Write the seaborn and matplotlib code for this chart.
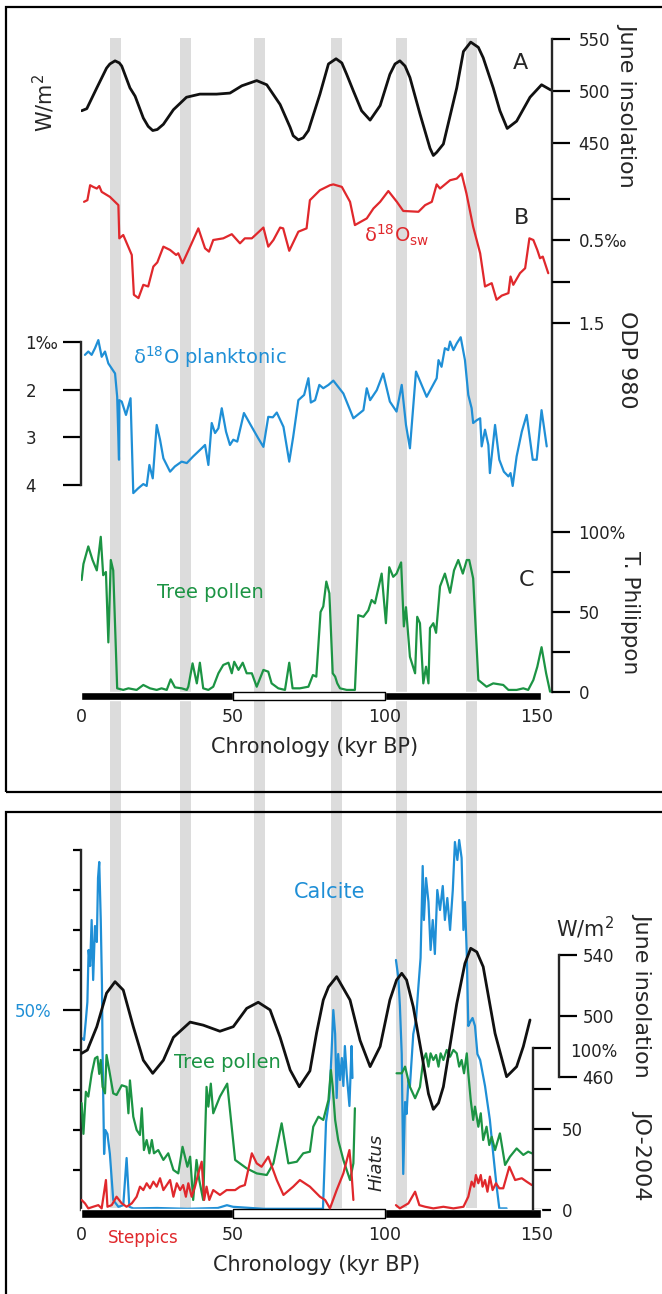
import numpy as np
import pandas as pd
import matplotlib.pyplot as plt
import seaborn as sns
from matplotlib.patches import Rectangle

sns.set_style("white")
plt.rcParams["font.family"] = ["DejaVu Sans"]
plt.rcParams["mathtext.fontset"] = "dejavusans"
plt.rcParams["lines.solid_joinstyle"] = "round"

# Figure geometry (pixels) and x mapping
W, H = 662, 1294
X0, PXK = 81, 3.04
XMAX = (560 - X0) / PXK

BLACK, RED, BLUE, GREEN = "#111111", "#e0282c", "#1f8fd6", "#1c9444"
GREY = "#dcdcdc"
TXT = "#222222"

# ---- DATA ----
# grey bands (kyr BP)
band_centers = [11.5, 34.5, 58.6, 84.2, 105.3, 128.6]
band_width = 3.6

# chronology bar
bar_black = [(0, 50), (100, 51.3)]
bar_white = [(50, 50)]

# A: June insolation (W/m2), ODP 980 panel
ins_top_age = [0.2, 1.9, 5.2, 8.4, 9.5, 11.2, 12.6, 13.4, 16.1, 17.8, 20.5, 22.1, 23.6, 25.1, 27.1,
               30.4, 34.7, 39.1, 44.6, 49.0, 52.9, 57.8, 61.1, 65.5, 68.8, 69.8, 71.5, 73.1, 74.8,
               78.6, 81.4, 83.9, 85.8, 87.4, 89.6, 92.3, 95.1, 98.4, 101.6, 103.3, 104.9, 106.6,
               108.2, 111.5, 114.8, 115.9, 117.0, 119.2, 123.6, 125.8, 128.2, 130.7, 132.3, 135.6,
               137.8, 140.2, 143.3, 147.7, 151.5, 154.5]
ins_top_val = [481, 483, 503, 522, 526, 529, 527, 524, 503, 495, 474, 466, 462, 463, 468,
               482, 494, 497, 497, 498, 505, 510, 506, 487, 465, 457, 453, 455, 462,
               497, 526, 531, 527, 516, 500, 481, 472, 486, 516, 526, 529, 524,
               513, 478, 445, 438, 441, 449, 503, 538, 547, 542, 532, 503,
               481, 464, 471, 494, 506, 501]

# B: d18O seawater (permil)
sw_age = [1.0, 2.1, 3.0, 4.0, 5.2, 6.0, 6.8, 9.5, 12.3, 12.6, 13.9, 16.7, 17.4, 18.9, 20.5, 22.1,
          23.8, 25.1, 27.1, 29.3, 31.3, 32.0, 33.4, 35.9, 38.6, 40.8, 42.1, 43.5, 46.8, 49.6,
          52.3, 53.9, 56.2, 60.0, 61.6, 63.3, 65.5, 66.5, 68.5, 71.5, 74.2, 75.3, 77.5, 78.6,
          81.9, 83.0, 85.8, 88.5, 90.1, 94.0, 96.2, 98.4, 101.1, 103.9, 106.0, 111.0, 113.2,
          115.4, 117.0, 118.1, 121.4, 123.6, 125.2, 126.8, 129.0, 131.3, 132.9, 134.0, 135.1,
          136.7, 138.4, 140.6, 141.3, 142.2, 144.4, 146.1, 147.5, 148.8, 150.1, 151.0, 151.9,
          153.7]
sw_val = [0.04, 0.02, -0.16, -0.14, -0.12, -0.15, -0.08, -0.02, 0.08, 0.48, 0.44, 0.68, 1.16, 1.20,
          1.04, 1.06, 0.82, 0.77, 0.58, 0.62, 0.68, 0.66, 0.78, 0.58, 0.36, 0.60, 0.64, 0.50,
          0.48, 0.43, 0.54, 0.48, 0.48, 0.35, 0.58, 0.50, 0.35, 0.36, 0.63, 0.40, 0.36, 0.02,
          -0.06, -0.10, -0.16, -0.17, -0.14, 0.04, 0.32, 0.24, 0.12, 0.04, -0.09, 0.04, 0.15,
          0.16, 0.08, 0.04, -0.17, -0.12, -0.22, -0.24, -0.30, -0.06, 0.34, 0.66, 1.06, 1.04,
          1.02, 1.22, 1.17, 1.14, 0.94, 1.04, 0.90, 0.84, 0.48, 0.50, 0.62, 0.72, 0.70, 0.90]

# d18O planktonic (permil)
pl_age = [1.3, 2.4, 3.5, 4.6, 5.7, 6.8, 7.9, 9.0, 11.2, 11.9, 12.5, 12.6, 13.4, 14.8, 16.3, 17.2,
          18.8, 20.5, 21.6, 22.5, 23.6, 24.9, 26.0, 27.1, 29.3, 30.9, 33.1, 34.8, 36.9, 39.7,
          40.8, 41.9, 43.0, 44.1, 45.2, 46.3, 47.7, 49.0, 50.1, 51.4, 53.6, 55.8, 58.3, 60.0,
          61.6, 63.1, 64.4, 66.6, 68.5, 69.8, 71.5, 73.4, 74.8, 75.6, 77.0, 78.4, 79.7, 81.4,
          83.0, 86.3, 89.6, 92.9, 94.0, 95.1, 97.3, 99.4, 101.6, 103.8, 105.5, 106.9, 108.2,
          110.2, 113.7, 117.0, 117.6, 118.6, 119.7, 120.8, 121.4, 122.5, 123.6, 124.9, 126.3,
          127.4, 128.5, 129.0, 130.2, 131.3, 131.8, 132.9, 134.0, 134.5, 136.2, 137.6, 139.1,
          140.6, 141.3, 142.0, 143.3, 145.0, 146.6, 148.6, 149.9, 151.5, 153.2]
pl_val = [1.27, 1.20, 1.27, 1.13, 0.96, 1.31, 1.20, 1.45, 1.66, 2.15, 3.47, 2.22, 2.25, 2.53, 2.18,
          4.17, 4.07, 3.98, 4.02, 3.58, 3.86, 2.74, 3.05, 3.44, 3.72, 3.61, 3.51, 3.54, 3.40,
          3.23, 3.16, 3.58, 2.70, 2.91, 2.81, 2.39, 2.88, 3.16, 3.05, 3.09, 2.49, 2.74, 3.02,
          3.20, 2.57, 2.58, 2.48, 2.78, 3.51, 2.99, 2.22, 2.11, 1.76, 2.27, 2.22, 1.90, 1.97,
          1.90, 1.81, 2.08, 2.60, 2.43, 1.97, 2.22, 2.01, 1.66, 2.25, 2.46, 1.90, 2.74, 3.23,
          1.62, 2.15, 1.76, 1.38, 1.52, 1.13, 1.17, 0.99, 1.17, 1.03, 0.90, 1.38, 2.11, 2.39,
          2.70, 2.64, 2.60, 3.19, 2.84, 3.16, 3.75, 2.74, 3.47, 3.72, 3.82, 3.75, 4.02, 3.40,
          2.88, 2.53, 3.47, 3.47, 2.43, 3.19]

# C: tree pollen (%), T. Philippon
tp_age = [0.2, 0.8, 2.4, 3.8, 5.2, 6.5, 7.3, 8.2, 9.0, 9.8, 10.6, 11.9, 13.9, 15.6, 18.3, 20.5,
          22.7, 24.9, 26.5, 28.2, 29.5, 30.9, 33.1, 34.8, 35.3, 36.7, 38.1, 39.1, 40.2, 41.9,
          43.5, 45.2, 46.8, 48.5, 49.6, 50.4, 51.8, 53.2, 54.5, 56.2, 57.8, 60.0, 61.6, 62.7,
          64.9, 67.1, 68.5, 69.6, 72.0, 74.8, 76.3, 77.4, 78.8, 79.7, 80.7, 81.7, 82.8, 83.6,
          84.3, 85.2, 87.4, 90.1, 91.2, 92.9, 94.5, 95.6, 96.7, 98.9, 100.3, 101.4, 102.7,
          103.8, 105.3, 106.2, 106.9, 108.2, 109.9, 110.6, 111.5, 112.6, 113.5, 114.3, 114.8,
          115.9, 116.8, 118.1, 119.7, 121.4, 122.7, 124.1, 125.6, 126.9, 127.7, 129.0, 130.7,
          133.4, 135.6, 138.9, 140.6, 143.3, 145.5, 147.1, 148.8, 150.1, 151.5, 153.0, 154.3]
tp_val = [70, 80, 91, 82.5, 76, 97, 73, 75, 31, 82.5, 76, 2.3, 1.3, 2.3, 1.3, 4.4,
          2.3, 1.3, 2.3, 1.3, 7.9, 2.9, 2.3, 1.3, 3.3, 17.9, 5.4, 18.3, 2.3, 1.3,
          3.3, 11.7, 16.9, 18.3, 11.7, 18.9, 13.8, 18.3, 11.7, 11.7, 3.3, 13.8, 12.7, 5.4,
          2.3, 1.3, 18.3, 2.3, 2.3, 3.3, 10.6, 9.6, 50, 53.5, 69, 61.7, 11.7, 9.6,
          5.4, 2.3, 1.3, 1.3, 48, 47, 51, 57.5, 55.4, 74, 43, 78, 72,
          74, 81, 41, 53, 22, 11.7, 47, 43, 5.4, 15.8, 5.4, 40,
          43, 37, 66, 74, 62, 76, 82.5, 74, 82.5, 82.5, 71, 7.5,
          3.3, 5.4, 4.4, 1.3, 1.3, 2.3, 1.3, 7.5, 15.8, 28, 11.7, 0.2]

# JO-2004: June insolation (W/m2)
ins_bot_age = [0.2, 2.1, 5.2, 8.4, 11.2, 13.9, 17.2, 20.5, 23.6, 27.1, 30.4, 35.9, 40.2, 45.7,
               50.1, 54.5, 58.3, 62.2, 65.5, 68.8, 71.8, 75.3, 77.5, 79.7, 81.4, 84.1, 88.5,
               91.8, 95.1, 98.4, 101.6, 103.8, 105.5, 107.1, 109.3, 112.6, 114.3, 115.9, 117.6,
               119.2, 123.6, 126.3, 128.2, 130.2, 132.3, 136.2, 140.0, 143.3, 145.5, 147.7]
ins_bot_val = [475.5, 477.7, 493, 515, 522.5, 517, 493, 471, 462.4, 471, 486, 496, 494, 490,
               493, 505, 509, 504, 486, 464.6, 453.6, 464, 489, 510.5, 519, 525.8, 510.5,
               484, 466.8, 480, 510.5, 523.6, 528, 523.6, 506, 469, 449, 438.8, 443,
               453.6, 508, 534.5, 544.4, 542, 532.3, 488.6, 460.2, 466.8, 480, 497.4]

# JO-2004: calcite (%), before and after the hiatus
cal_age_a = [0.2, 1.0, 1.6, 2.1, 2.5, 3.0, 3.5, 4.0, 4.6, 5.2, 5.6, 6.0, 6.5, 6.9, 7.1, 7.6, 8.0,
             8.7, 9.5, 10.6, 12.3, 13.9, 15.0, 15.9, 17.2, 25, 35, 45, 48, 50, 60, 70, 79.6,
             80.6, 81.7, 82.4, 83.0, 83.6, 84.1, 84.6, 85.2, 85.8, 86.3, 86.8, 87.4, 88.3, 89.0,
             89.3]
cal_val_a = [43, 42.5, 47.5, 52, 65, 61, 72.5, 57.5, 71, 67, 83, 87, 72.5, 56, 39, 14, 20,
             19, 14, 2.5, 0.8, 1.2, 13, 0.8, 0.4, 0.5, 0.3, 0.5, 1.2, 0.8, 0.3, 0.3, 0.3,
             22, 28, 39, 50, 44, 28, 39, 32.5, 38, 31, 41, 34, 26, 41, 33]
cal_age_b = [103.6, 104.4, 104.9, 105.5, 106.0, 106.6, 107.1, 107.7, 108.2, 109.3, 110.2, 111.0,
             111.7, 112.4, 112.8, 113.5, 114.3, 115.0, 115.7, 116.4, 117.2, 118.1, 119.0, 119.7,
             120.5, 121.4, 122.3, 123.0, 123.8, 124.4, 125.2, 125.8, 126.3, 126.9, 127.4, 128.0,
             128.8, 129.6, 130.4, 131.3, 132.9, 134.5, 135.6, 136.7, 137.6, 140.0]
cal_val_b = [62.5, 58, 51, 39, 9, 27, 24, 32.5, 31, 44, 47.5, 56,
             63, 86, 72.5, 83, 77, 65, 72.5, 64, 80, 75, 81, 72.5,
             78, 70, 80, 92, 87.5, 92.5, 88, 70, 77, 64, 46, 47,
             48, 46, 39, 37.5, 31, 22.5, 14, 6, 0.4, 0.4]

# JO-2004: tree pollen (%)
jt_age_a = [0.2, 0.8, 1.6, 2.4, 3.5, 4.6, 5.4, 6.0, 6.5, 7.1, 7.9, 8.4, 9.5, 10.6, 11.7, 13.4,
            15.0, 15.6, 16.1, 17.2, 18.3, 19.4, 20.0, 20.7, 21.6, 22.5, 23.3, 24.0, 25.4, 27.1,
            28.7, 30.4, 32.0, 33.4, 34.2, 35.0, 35.9, 36.9, 38.0, 38.9, 40.2, 41.3, 41.9, 42.7,
            43.5, 45.7, 48.1, 50.7, 54.5, 57.8, 61.1, 63.3, 66.0, 68.2, 71.0, 73.1, 75.3, 76.4,
            78.1, 79.7, 81.4, 82.2, 82.8, 83.6, 84.6, 86.3, 88.5, 89.6, 90.1]
jt_val_a = [66, 47, 73, 70, 84, 93.6, 94.6, 84, 92.6, 76, 72, 95.7, 84, 72, 71, 77,
            76, 59.7, 80, 57.6, 49.4, 46.3, 62.8, 37, 43.2, 35, 43.2, 35, 37, 30.9,
            35, 24.7, 22.6, 39, 32.9, 26.7, 32.9, 6.2, 30.9, 18.5, 6.2, 76, 63.8, 78,
            59.7, 70, 78, 30.9, 25.7, 22.6, 21.6, 28.8, 53.5, 28.8, 29.8, 35, 36, 51.4,
            57.6, 55.6, 67.9, 86.4, 76, 55.6, 43.2, 30.9, 18.5, 28.8, 62.8]
jt_age_b = [103.8, 105.5, 106.6, 108.2, 109.9, 111.5, 112.6, 113.5, 114.3, 115.0, 115.9, 116.8,
            117.6, 118.3, 119.2, 120.3, 121.4, 122.5, 123.6, 124.4, 125.2, 126.0, 126.9, 127.4,
            128.2, 129.0, 129.6, 130.7, 131.5, 132.3, 133.4, 134.3, 135.1, 136.2, 137.8, 139.5,
            141.1, 143.3, 145.5, 147.1, 148.3]
jt_val_b = [84.4, 84.4, 88.5, 76, 69, 76, 92.6, 96.7, 88.5, 96.7, 92.6, 95.7,
            88.5, 96.7, 92.6, 98.8, 94.6, 98.8, 96.7, 88.5, 92.6, 84.4, 96.7, 84.4,
            67.9, 55.6, 63.8, 51.4, 59.7, 43.2, 51.4, 40.1, 45.2, 37, 47.3, 27.8,
            32.9, 38, 34, 36, 35]

# JO-2004: steppic pollen (%)
st_age_a = [0.2, 1.3, 2.4, 4.0, 5.7, 6.8, 8.2, 8.7, 10.1, 11.7, 13.4, 15.0, 16.7, 18.3, 19.4,
            20.5, 21.6, 22.7, 23.8, 24.9, 26.0, 27.1, 28.2, 29.3, 30.4, 31.5, 32.6, 33.6, 34.5,
            35.3, 36.4, 37.5, 38.6, 39.7, 40.5, 41.3, 42.2, 43.5, 45.7, 47.9, 50.7, 52.3, 53.9,
            56.2, 57.8, 59.4, 61.6, 64.4, 66.6, 69.8, 72.0, 75.3, 78.6, 80.3, 81.9, 84.1, 86.3,
            88.3, 89.0, 89.6]
st_val_a = [6.2, 4.1, 1, 2, 3, 1, 18.5, 2, 3, 8.2, 4.1, 2, 4.1, 8.2, 14.4,
            12.3, 16.5, 13.4, 17.5, 14.4, 19.6, 12.3, 15.4, 18.5, 8.2, 16.5, 12.3, 15.4, 8.2,
            16.5, 8.2, 14.4, 22.6, 29.8, 6.2, 14.4, 6.2, 12.3, 9.3, 12.3, 12.3, 14.4, 15.4,
            35, 28.8, 26.7, 32.9, 18.5, 9.3, 14.4, 18.5, 14.4, 8.2, 6.2, 1, 12.3, 22.6,
            37, 22.6, 6.2]
st_age_b = [103.6, 104.9, 107.7, 109.9, 111.3, 113.2, 115.9, 119.2, 122.5, 125.8, 127.4, 128.5,
            129.3, 129.9, 130.7, 131.5, 132.1, 132.9, 133.7, 134.5, 135.4, 136.5, 137.6, 138.9,
            140.9, 142.8, 145.0, 146.6, 148.3]
st_val_b = [3, 1, 4.1, 11.3, 3, 2, 1, 2, 1, 2, 8.2, 17.5,
            14.4, 21.6, 16.5, 21.6, 14.4, 18.5, 11.3, 20.6, 12.3, 16.5, 13.4, 13.4,
            26.7, 18.5, 19.6, 17.5, 15.4]

# ---- FIGURE ----
fig = plt.figure(figsize=(W / 100, H / 100), dpi=100)


def rect_px(x0, y0, x1, y1):
    return [x0 / W, 1 - y1 / H, (x1 - x0) / W, (y1 - y0) / H]


def layer(rect):
    ax = fig.add_axes(rect)
    ax.set_xlim(0, XMAX)
    ax.patch.set_visible(False)
    for s in ax.spines.values():
        s.set_visible(False)
    ax.set_xticks([])
    ax.set_yticks([])
    return ax


def scale(ax, top, bot, v1, p1, v2, p2):
    # y limits so that value v1 sits at pixel p1 and v2 at p2
    k = (p2 - p1) / (v2 - v1)
    ax.set_ylim(v1 + (bot - p1) / k, v1 + (top - p1) / k)
    return lambda p: v1 + (p - p1) / k


def yaxis(ax, side, xpos, ticks, labels, length=13, pad=6, color=TXT, size=12):
    if side == "right":
        ax.yaxis.tick_right()
    else:
        ax.yaxis.tick_left()
    ax.spines[side].set_position(("data", xpos))
    ax.set_yticks(ticks)
    ax.set_yticklabels(labels)
    ax.tick_params(axis="y", which="major", direction="out", length=length, width=1.6,
                   pad=pad, labelsize=size, labelcolor=color, color="black")


def line(ax, x, y, color, lw=1.6):
    sns.lineplot(x=x, y=y, ax=ax, color=color, lw=lw, sort=False, estimator=None,
                 legend=False)
    ax.set_xlabel("")
    ax.set_ylabel("")


# grey bands through both panels
ax_bg = layer(rect_px(X0, 38, 560, 1208))
ax_bg.set_ylim(0, 1)
for c in band_centers:
    ax_bg.axvspan(c - band_width / 2, c + band_width / 2, color=GREY, lw=0)

# ---------- upper panel ----------
TOP = rect_px(X0, 20, 560, 700)
x_right_top = (552 - X0) / PXK

ax_ins = layer(TOP)
inv_ins = scale(ax_ins, 20, 700, 550, 39, 450, 143)
line(ax_ins, ins_top_age, ins_top_val, BLACK, lw=2.0)
yaxis(ax_ins, "right", x_right_top, [550, 500, 450], ["550", "500", "450"])
ax_ins.spines["right"].set_visible(True)
ax_ins.spines["right"].set_linewidth(1.7)
ax_ins.spines["right"].set_bounds(inv_ins(692), 550)

ax_sw = layer(TOP)
scale(ax_sw, 20, 700, 0.5, 240, 1.5, 323)
line(ax_sw, sw_age, sw_val, RED)
yaxis(ax_sw, "right", x_right_top, [0, 0.5, 1.0, 1.5], ["", "0.5‰", "", "1.5"])

ax_pl = layer(TOP)
scale(ax_pl, 20, 700, 1, 342, 4, 485)
line(ax_pl, pl_age, pl_val, BLUE)
yaxis(ax_pl, "left", 0, [1, 2, 3, 4], ["1‰", "2", "3", "4"], pad=27)
for lab in ax_pl.get_yticklabels():
    lab.set_ha("left")
ax_pl.spines["left"].set_visible(True)
ax_pl.spines["left"].set_linewidth(1.7)
ax_pl.spines["left"].set_bounds(1, 4)

ax_tp = layer(TOP)
inv_tp = scale(ax_tp, 20, 700, 0, 692, 100, 532)
line(ax_tp, tp_age, tp_val, GREEN)
yaxis(ax_tp, "right", x_right_top, [0, 25, 50, 75, 100], ["0", "", "50", "", "100%"])
ax_tp.broken_barh(bar_black, (inv_tp(700), inv_tp(692) - inv_tp(700)), facecolors="black",
                  clip_on=False)
ax_tp.broken_barh(bar_white, (inv_tp(700), inv_tp(692) - inv_tp(700)), facecolors="white",
                  edgecolors="black", lw=1, clip_on=False)
ax_tp.set_xticks([0, 50, 100, 150])
ax_tp.set_xticklabels(["0", "50", "100", "150"])
ax_tp.tick_params(axis="x", length=0, pad=6, labelsize=12.5, labelcolor=TXT)

fig.text(44 / W, 1 - 103 / H, "W/m$^2$", rotation=90, ha="center", va="center", fontsize=15)
fig.text(520 / W, 1 - 63 / H, "A", ha="center", va="center", fontsize=16)
fig.text(522 / W, 1 - 218 / H, "B", ha="center", va="center", fontsize=16)
fig.text(526 / W, 1 - 580 / H, "C", ha="center", va="center", fontsize=16)
fig.text(397 / W, 1 - 235 / H, "δ$^{18}$O$_{\\mathrm{sw}}$", ha="center", va="center",
         fontsize=14, color=RED)
fig.text(210 / W, 1 - 357 / H, "δ$^{18}$O planktonic", ha="center", va="center",
         fontsize=14, color=BLUE)
fig.text(210 / W, 1 - 592 / H, "Tree pollen", ha="center", va="center", fontsize=14,
         color=GREEN)
fig.text(627 / W, 1 - 105 / H, "June insolation", rotation=-90, ha="center", va="center",
         fontsize=16)
fig.text(627 / W, 1 - 360 / H, "ODP 980", rotation=-90, ha="center", va="center", fontsize=16)
fig.text(630 / W, 1 - 613 / H, "T. Philippon", rotation=-90, ha="center", va="center",
         fontsize=15.5)
fig.text(315 / W, 1 - 747 / H, "Chronology (kyr BP)", ha="center", va="center", fontsize=15)

# ---------- lower panel ----------
BOT = rect_px(X0, 830, 560, 1218)

ax_cal = layer(BOT)
scale(ax_cal, 830, 1218, 0, 1210, 50, 1010)
line(ax_cal, cal_age_a, cal_val_a, BLUE)
line(ax_cal, cal_age_b, cal_val_b, BLUE)
yaxis(ax_cal, "left", 0, [50], ["50%"], pad=8, color=BLUE)
ax_cal.set_yticks([10, 20, 30, 40, 60, 70, 80, 90], minor=True)
ax_cal.tick_params(axis="y", which="minor", direction="out", length=6, width=1.6,
                   color="black")
ax_cal.spines["left"].set_visible(True)
ax_cal.spines["left"].set_linewidth(1.7)
ax_cal.spines["left"].set_bounds(0, 90)

ax_jo = layer(BOT)
inv_jo = scale(ax_jo, 830, 1218, 0, 1210, 100, 1048)
line(ax_jo, jt_age_a, jt_val_a, GREEN)
line(ax_jo, jt_age_b, jt_val_b, GREEN)
line(ax_jo, st_age_a, st_val_a, RED)
line(ax_jo, st_age_b, st_val_b, RED)
yaxis(ax_jo, "right", (533 - X0) / PXK, [0, 25, 50, 75, 100], ["0", "", "50", "", ""], pad=8)
ax_jo.spines["right"].set_visible(True)
ax_jo.spines["right"].set_linewidth(1.7)
ax_jo.spines["right"].set_bounds(0, 100)
ax_jo.broken_barh(bar_black, (inv_jo(1218), inv_jo(1209) - inv_jo(1218)), facecolors="black",
                  clip_on=False)
ax_jo.broken_barh(bar_white, (inv_jo(1218), inv_jo(1209) - inv_jo(1218)), facecolors="white",
                  edgecolors="black", lw=1, clip_on=False)
ax_jo.set_xticks([0, 50, 100, 150])
ax_jo.set_xticklabels(["0", "50", "100", "150"])
ax_jo.tick_params(axis="x", length=0, pad=6, labelsize=12.5, labelcolor=TXT)

ax_bins = layer(BOT)
scale(ax_bins, 830, 1218, 540, 955, 460, 1077)
line(ax_bins, ins_bot_age, ins_bot_val, BLACK, lw=2.0)
yaxis(ax_bins, "right", (559 - X0) / PXK, [460, 500, 540], ["460", "500", "540"], pad=4)
ax_bins.spines["right"].set_visible(True)
ax_bins.spines["right"].set_linewidth(1.7)
ax_bins.spines["right"].set_bounds(460, 540)

fig.text(570 / W, 1 - 1052 / H, "100%", ha="left", va="center", fontsize=12, color=TXT)
fig.text(585 / W, 1 - 928 / H, "W/m$^2$", ha="center", va="center", fontsize=15)
fig.text(330 / W, 1 - 892 / H, "Calcite", ha="center", va="center", fontsize=15, color=BLUE)
fig.text(227 / W, 1 - 1062 / H, "Tree pollen", ha="center", va="center", fontsize=14,
         color=GREEN)
fig.text(143 / W, 1 - 1238 / H, "Steppics", ha="center", va="center", fontsize=12, color=RED)
fig.text(377 / W, 1 - 1162 / H, "Hiatus", rotation=90, ha="center", va="center", fontsize=13,
         fontstyle="italic")
fig.text(642 / W, 1 - 995 / H, "June insolation", rotation=-90, ha="center", va="center",
         fontsize=16)
fig.text(642 / W, 1 - 1155 / H, "JO-2004", rotation=-90, ha="center", va="center", fontsize=16)
fig.text(317 / W, 1 - 1265 / H, "Chronology (kyr BP)", ha="center", va="center", fontsize=15)

# panel frames
for (x0, y0, x1, y1) in [(6, 7, 668, 792), (6, 812, 668, 1300)]:
    fig.add_artist(Rectangle((x0 / W, 1 - y1 / H), (x1 - x0) / W, (y1 - y0) / H,
                             transform=fig.transFigure, fill=False, lw=1.6, ec="black"))

fig.savefig("out.png", dpi=100)
